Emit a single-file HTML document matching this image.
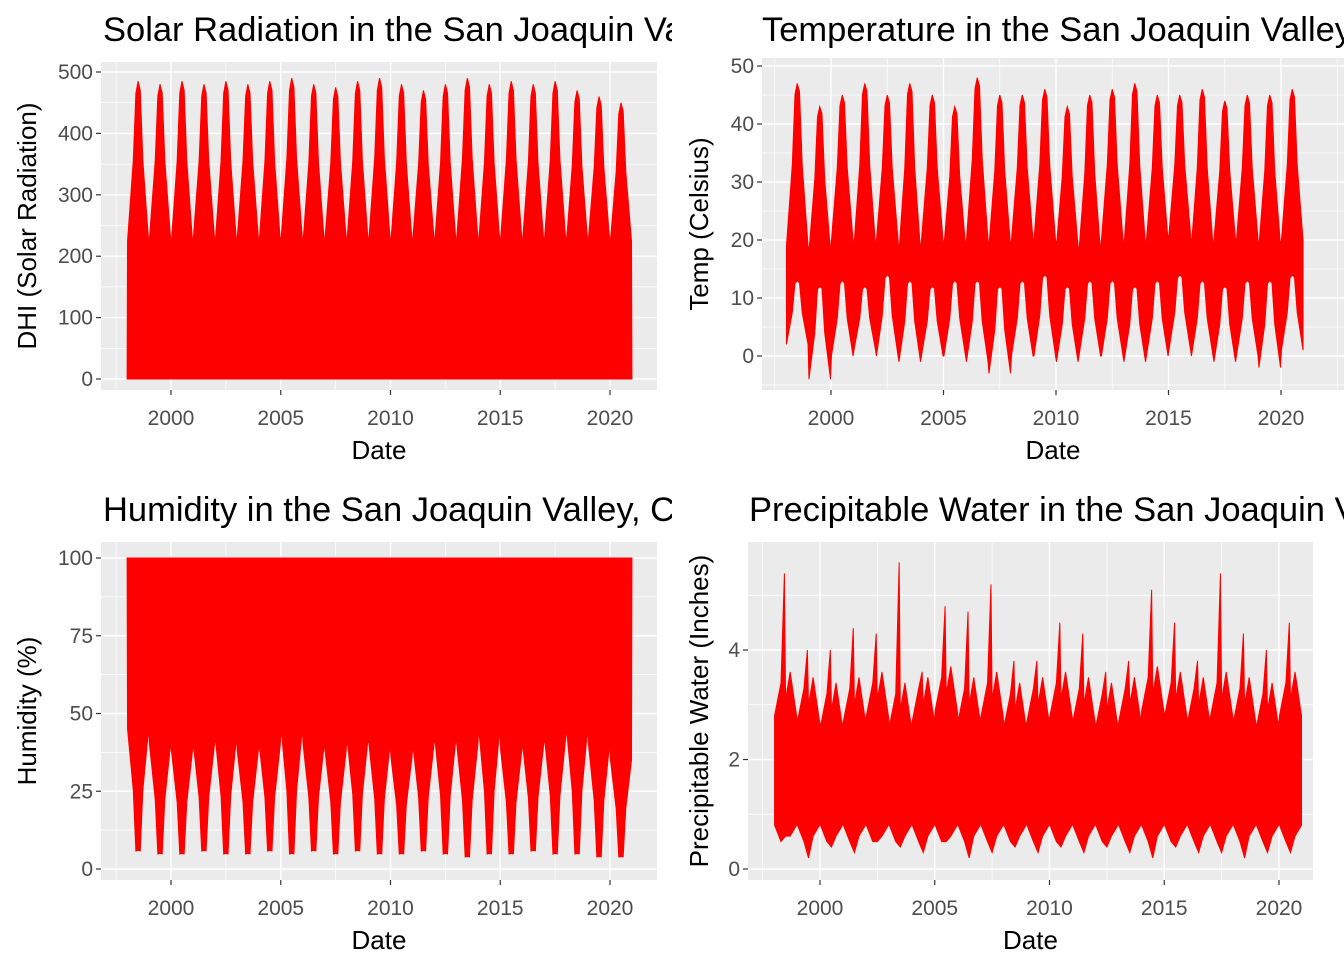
<!DOCTYPE html>
<html><head><meta charset="utf-8"><style>
body{margin:0;background:#fff;}
svg text{font-family:"Liberation Sans",Arial,sans-serif;}
</style></head><body>
<svg id="s" width="1344" height="960" viewBox="0 0 1344 960"></svg>
<script>
// ---- data ----
const years = [1998,1999,2000,2001,2002,2003,2004,2005,2006,2007,2008,2009,2010,2011,2012,2013,2014,2015,2016,2017,2018,2019,2020];
const solarSummerPeak = [485,480,485,480,485,480,485,490,480,475,485,490,480,470,480,490,480,485,480,485,470,460,450];
const solarWinterTop = [225,230,225,230,225,230,225,230,225,230,225,230,225,230,225,230,225,230,225,230,225,230,225];
const tempSummerMax = [47,43,45,47,45,47,45,43,48,45,45,46,43,45,46,47,45,45,46,44,45,45,46];
const tempWinterMax = [19,18,20,19,20,18,20,19,20,19,20,20,19,18,20,19,20,21,19,20,20,19,20];
const tempSummerMin = [13,12,13,12,14,13,12,13,13,12,13,14,12,13,13,12,13,14,13,12,13,13,14];
const tempWinterMin = [2,-4,0,1,0,-1,0,0,-1,-3,0,0,-1,0,0,-1,0,1,0,-1,0,-2,1];
const humSummerMin = [6,5,5,6,5,5,6,5,6,5,6,5,5,6,5,4,5,5,6,5,5,4,4];
const humWinterMin = [45,40,38,40,42,38,40,45,40,38,42,40,36,40,42,40,45,38,40,42,45,40,35];
const humMax = [100,100,100,100,100,100,100,100,100,100,100,100,100,100,100,100,100,100,100,100,100,100,100];
const pwPeak = [5.4,4.0,4.0,4.4,4.3,5.6,3.6,4.8,4.7,5.2,3.8,3.8,4.5,4.3,3.6,3.8,5.1,4.5,3.8,5.4,4.3,4.0,4.5];
const pwBase = [2.8,2.7,2.6,2.7,2.8,2.6,2.7,2.9,2.7,2.8,2.6,2.7,2.8,2.7,2.6,2.7,2.9,2.8,2.7,2.8,2.7,2.6,2.8];
const pwLow = [0.6,0.2,0.4,0.3,0.5,0.4,0.3,0.5,0.2,0.3,0.4,0.3,0.4,0.3,0.4,0.3,0.2,0.4,0.3,0.3,0.2,0.3,0.3];
const xTicks = [2000,2005,2010,2015,2020];

const NS="http://www.w3.org/2000/svg", svg=document.getElementById('s');
function el(tag,attrs,parent){const e=document.createElementNS(NS,tag);for(const k in attrs)e.setAttribute(k,attrs[k]);(parent||svg).appendChild(e);return e;}

function panel(c){
  const g=el('g',{});
  
  
  const X=v=>c.px0+(v-c.x0)*(c.px1-c.px0)/(c.x1-c.x0);
  const Y=v=>c.py0+(v-c.y0)*(c.py1-c.py0)/(c.y1-c.y0);
  const bg=el('rect',{x:c.L,y:c.T,width:c.R-c.L,height:c.B-c.T,fill:'#EBEBEB'},g);
  
  
  for(let i=0;i<c.yt.length-1;i++){const m=(c.yt[i]+c.yt[i+1])/2;el('line',{x1:c.L,x2:c.R,y1:Y(m),y2:Y(m),stroke:'#fff','stroke-width':0.7},g);}
  const m0=c.yt[0]-(c.yt[1]-c.yt[0])/2; if(Y(m0)<c.B) el('line',{x1:c.L,x2:c.R,y1:Y(m0),y2:Y(m0),stroke:'#fff','stroke-width':0.7},g);
  const mt=c.yt[c.yt.length-1]+(c.yt[1]-c.yt[0])/2; if(Y(mt)>c.T) el('line',{x1:c.L,x2:c.R,y1:Y(mt),y2:Y(mt),stroke:'#fff','stroke-width':0.7},g);
  [1997.5,2002.5,2007.5,2012.5,2017.5,2022.5].forEach(v=>{if(X(v)>c.L&&X(v)<c.R)el('line',{x1:X(v),x2:X(v),y1:c.T,y2:c.B,stroke:'#fff','stroke-width':0.7},g);});
  c.yt.forEach(v=>{el('line',{x1:c.L,x2:c.R,y1:Y(v),y2:Y(v),stroke:'#fff','stroke-width':1.4},g);
    el('line',{x1:c.L-5,x2:c.L,y1:Y(v),y2:Y(v),stroke:'#333','stroke-width':1.2},g);
    const t=el('text',{x:c.L-8,y:Y(v)+7,'text-anchor':'end','font-size':21,fill:'#4D4D4D'},g);t.textContent=v;
    });
  xTicks.forEach(v=>{el('line',{x1:X(v),x2:X(v),y1:c.T,y2:c.B,stroke:'#fff','stroke-width':1.4},g);
    el('line',{x1:X(v),x2:X(v),y1:c.B,y2:c.B+5,stroke:'#333','stroke-width':1.2},g);
    const t=el('text',{x:X(v),y:c.B+35,'text-anchor':'middle','font-size':21,fill:'#4D4D4D'},g);t.textContent=v;
    });
  const up=[],lo=[];
  years.forEach((yr,i)=>{c.upper(i).forEach(p=>up.push(X(yr+p[0])+','+Y(p[1])));c.lower(i).forEach(p=>lo.push(X(yr+p[0])+','+Y(p[1])));});
  const poly=el('polygon',{points:up.concat(lo.reverse()).join(' '),fill:'#FF0000',stroke:'#FF0000','stroke-width':1},g);
  
  
  const cp=el('clipPath',{id:'cp'+c.name},g);el('rect',{x:c.cx0,y:0,width:c.cx1-c.cx0,height:960},cp);
  const tt=el('text',{x:c.tx,y:c.ty,'font-size':34.5,fill:'#000','clip-path':'url(#cp'+c.name+')'},g);tt.textContent=c.title;
  
  const xt=el('text',{x:(c.L+c.R)/2,y:c.B+69,'text-anchor':'middle','font-size':26,fill:'#000'},g);xt.textContent='Date';
  
  const cy=(c.T+c.B)/2;
  const yl=el('text',{x:c.yx,y:cy,'text-anchor':'middle','font-size':26,fill:'#000',transform:'rotate(-90 '+c.yx+' '+cy+')'},g);yl.textContent=c.ylab;
  
}

const seasonal=(w,s)=>i=>[[0.02,w[i]],[0.28,(w[i]+s[i])/2],[0.4,s[i]*0.96],[0.5,s[i]],[0.6,s[i]*0.97],[0.72,(w[i]+s[i])/2],[0.98,w[i]]];

panel({name:'solar-panel',title:'Solar Radiation in the San Joaquin Valley, CA',ylab:'DHI (Solar Radiation)',
 L:101,R:657,T:62,B:390,px0:171,px1:610,x0:2000,x1:2020,py0:379,py1:72,y0:0,y1:500,yt:[0,100,200,300,400,500],
 tx:103,ty:41,cx0:0,cx1:672,yx:36,
 upper:seasonal(solarWinterTop,solarSummerPeak),lower:i=>[[0,0],[1,0]]});
panel({name:'temperature-panel',title:'Temperature in the San Joaquin Valley, CA',ylab:'Temp (Celsius)',
 L:762,R:1344,T:58,B:390,px0:831,px1:1281,x0:2000,x1:2020,py0:356,py1:66,y0:0,y1:50,yt:[0,10,20,30,40,50],
 tx:762,ty:41,cx0:672,cx1:1344,yx:708,
 upper:seasonal(tempWinterMax,tempSummerMax),lower:seasonal(tempWinterMin,tempSummerMin)});
panel({name:'humidity-panel',title:'Humidity in the San Joaquin Valley, CA',ylab:'Humidity (%)',
 L:101,R:657,T:542,B:880,px0:171,px1:610,x0:2000,x1:2020,py0:869,py1:558,y0:0,y1:100,yt:[0,25,50,75,100],
 tx:103,ty:521,cx0:0,cx1:672,yx:36,
 upper:i=>[[0,humMax[i]],[1,humMax[i]]],lower:seasonal(humWinterMin,humSummerMin)});
panel({name:'precipitable-water-panel',title:'Precipitable Water in the San Joaquin Valley, CA',ylab:'Precipitable Water (Inches)',
 L:748,R:1313,T:542,B:880,px0:820,px1:1279,x0:2000,x1:2020,py0:869,py1:650,y0:0,y1:4,yt:[0,2,4],
 tx:749,ty:521,cx0:672,cx1:1344,yx:708,
 upper:i=>[[0.02,pwBase[i]],[0.3,pwBase[i]+0.6],[0.45,pwPeak[i]],[0.5,pwBase[i]+0.3],[0.7,pwBase[i]+0.8],[0.98,pwBase[i]]],
 lower:i=>[[0.02,0.8],[0.3,0.5],[0.5,pwLow[i]],[0.7,0.6],[0.98,0.8]]});
</script>
</body></html>
